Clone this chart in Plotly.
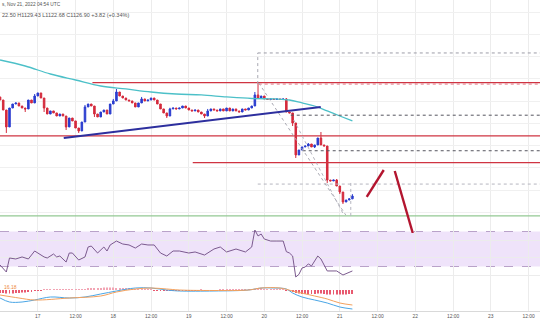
import pandas as pd
import plotly.graph_objects as go
from plotly.subplots import make_subplots

W, H = 540, 336

# ---- ETH/USD hourly bars, Nov 16 12:00 -> Nov 21 04:00 UTC ----
first_open = 1260.6
closes = [
    1256.5, 1243.0, 1220.1, 1245.7, 1251.1, 1252.5, 1248.4, 1245.7, 1244.4, 1256.5,
    1252.5, 1261.9, 1266.0, 1259.2, 1245.7, 1237.6, 1241.7, 1239.0, 1234.9, 1237.6,
    1234.9, 1220.1, 1232.2, 1228.2, 1218.7, 1214.7, 1226.8, 1247.1, 1251.1, 1248.4,
    1237.6, 1233.6, 1240.3, 1243.0, 1237.6, 1251.1, 1255.2, 1267.3, 1261.9, 1259.2,
    1256.5, 1255.2, 1252.5, 1247.1, 1252.5, 1257.9, 1255.2, 1256.5, 1259.2, 1256.5,
    1251.1, 1244.4, 1239.0, 1234.9, 1244.4, 1245.7, 1244.4, 1245.7, 1248.4, 1245.7,
    1243.0, 1241.7, 1243.0, 1240.3, 1237.6, 1234.9, 1241.7, 1244.4, 1243.0, 1241.7,
    1244.4, 1241.7, 1245.7, 1241.7, 1244.4, 1241.7, 1240.3, 1244.4, 1243.0, 1245.7,
    1248.4, 1263.3, 1259.2, 1261.9, 1257.9, 1257.2, 1257.9, 1257.2, 1257.9, 1257.2,
    1257.9, 1240.3, 1239.0, 1225.5, 1182.3, 1189.0, 1193.1, 1194.4, 1197.1, 1193.1,
    1195.8, 1205.2, 1195.8, 1194.4, 1148.5, 1147.2, 1148.5, 1140.4, 1132.3, 1118.8,
    1121.5, 1123.08, 1126.9,
]
# wick extremes where they reach beyond the candle body
wick_highs = {11: 1264.6, 27: 1249.8, 36: 1257.9, 37: 1271.4, 45: 1260.6, 54: 1246.0,
              66: 1244.4, 81: 1267.3, 82: 1279.5, 91: 1259.2, 98: 1198.4, 102: 1213.3,
              107: 1149.8, 112: 1129.43}
wick_lows = {2: 1212.0, 8: 1240.3, 14: 1240.3, 21: 1216.0, 25: 1212.0, 30: 1233.6,
             53: 1232.2, 65: 1232.2, 93: 1221.4, 94: 1178.2, 100: 1191.7, 104: 1144.5,
             108: 1129.6, 109: 1116.1, 112: 1122.68}

# 100-hour simple moving average, read at bar indices
sma_idx = [0, 8, 16, 24, 32, 40, 48, 56, 64, 72, 80, 88, 92, 96, 100, 104, 108, 112]
sma_val = [1310.5, 1302.4, 1291.6, 1283.5, 1275.4, 1271.4, 1267.3, 1264.6, 1263.3,
           1260.6, 1258.5, 1257.9, 1256.5, 1252.5, 1248.4, 1241.7, 1234.9, 1228.2]

# RSI(14)
rsi_idx = [0, 1, 2, 3, 5, 7, 9, 11, 12, 14, 15, 17, 18, 19, 21, 22, 23, 25, 27, 28, 29,
           31, 33, 34, 35, 37, 39, 41, 43, 45, 47, 49, 51, 53, 55, 57, 60, 62, 65, 68,
           70, 72, 75, 78, 80, 81, 82, 83, 84, 86, 88, 90, 91, 92, 93, 94, 95, 96, 97,
           98, 99, 101, 102, 104, 107, 109, 112]
rsi_val = [31.7, 28.0, 23.7, 39.7, 38.6, 40.9, 38.6, 47.7, 45.4, 40.9, 39.7, 44.3, 40.9,
           42.0, 35.1, 45.4, 45.4, 37.4, 40.9, 52.3, 53.4, 45.4, 52.3, 47.7, 54.6, 59.1,
           55.7, 54.6, 51.1, 55.7, 54.6, 54.6, 45.4, 42.0, 47.7, 47.7, 45.4, 46.6, 43.1,
           50.0, 52.3, 46.6, 50.0, 46.6, 52.3, 71.7, 64.9, 67.1, 61.4, 59.1, 59.1, 59.1,
           47.0, 45.4, 42.0, 18.0, 21.0, 28.3, 29.4, 33.0, 30.6, 42.0, 38.6, 24.9, 24.9,
           20.3, 24.9]

# MACD(12, 26, 9)
macd_idx = [0, 3, 7, 11, 16, 22, 27, 32, 37, 43, 48, 53, 57, 68, 79, 83, 87, 91, 93,
            96, 100, 104, 108, 112]
macd_val = [-16, -24, -24, -20, -14, -16, -14, -8, -2, 4, 4, 0, -2, -2, 0, 4, 4, 2, -6,
            -14, -20, -26, -34, -38]
signal_idx = [0, 6, 11, 22, 32, 37, 43, 48, 53, 57, 68, 79, 83, 89, 93, 100, 104, 108, 112]
signal_val = [-10, -16, -20, -16, -12, -4, 2, 4, 2, 0, -1, 0, 4, 4, -2, -12, -18, -26, -30]
hist = [
    -6, -6, -7, -7, -7, -6, -6, -5, -5, -4,
    -3, -2, -1, -1, 1, 1, 2, 2, 2, 2,
    2, 1, 1, 1, 1, 1, 2, 2, 3, 3,
    3, 4, 4, 5, 5, 5, 5, 4, 4, 3,
    3, 3, 2, 2, 2, 1, 1, 1, 1, -1,
    -1, -1, -2, -2, -2, -2, -1, -1, -1, -1,
    -1, -1, -1, -1, 1, -1, -1, -1, -1, -1,
    1, 1, 1, 1, 1, 1, 1, 1, 1, 1,
    1, 2, 3, 3, 2, 2, 2, 1, 1, 1,
    1, -1, -2, -4, -6, -7, -8, -8, -8, -8,
    -8, -7, -7, -8, -9, -9, -9, -9, -9, -9,
    -9, -8, -8,
]

# drawn levels
res_upper, res_mid, res_low, support = 1280, 1208, 1172, 1100

# time axis labels
tick_times = pd.date_range("2022-11-16 12:00", "2022-11-23 12:00", freq="12h")
tick_text = ["12:00" if t.hour == 12 else str(t.day) for t in tick_times]

# ---- build ----
times = pd.date_range("2022-11-16 12:00", periods=len(closes), freq="h")
opens = [first_open] + closes[:-1]
highs = [wick_highs.get(i, max(o, c)) for i, (o, c) in enumerate(zip(opens, closes))]
lows = [wick_lows.get(i, min(o, c)) for i, (o, c) in enumerate(zip(opens, closes))]

X0 = pd.Timestamp("2022-11-16 11:59")
X1 = pd.Timestamp("2022-11-23 15:38")

UP, DOWN = "#2b3dcf", "#d42a3c"
FONT = "Liberation Sans"

fig = make_subplots(rows=3, cols=1, shared_xaxes=True, vertical_spacing=0)

fig.add_trace(go.Candlestick(
    x=times, open=opens, high=highs, low=lows, close=closes,
    increasing=dict(line=dict(color=UP, width=1), fillcolor=UP),
    decreasing=dict(line=dict(color=DOWN, width=1), fillcolor=DOWN),
    whiskerwidth=0, hoverinfo="skip"), row=1, col=1)

fig.add_trace(go.Scatter(
    x=[times[i] for i in sma_idx], y=sma_val, mode="lines",
    line=dict(color="#4cc0c8", width=1.3, shape="spline"), hoverinfo="skip"), row=1, col=1)

fig.add_trace(go.Scatter(
    x=[times[i] for i in rsi_idx], y=rsi_val, mode="lines",
    line=dict(color="#7b5a8e", width=1), hoverinfo="skip"), row=2, col=1)

fig.add_trace(go.Bar(
    x=times, y=hist, width=1.1e6,
    marker=dict(color=["#f2a5b4" if v > 0 else "#e85a70" for v in hist], line=dict(width=0)),
    hoverinfo="skip"), row=3, col=1)
fig.add_trace(go.Scatter(
    x=[times[i] for i in macd_idx], y=macd_val, mode="lines",
    line=dict(color="#4aa6e6", width=1, shape="spline"), hoverinfo="skip"), row=3, col=1)
fig.add_trace(go.Scatter(
    x=[times[i] for i in signal_idx], y=signal_val, mode="lines",
    line=dict(color="#f3a15e", width=1, shape="spline"), hoverinfo="skip"), row=3, col=1)


def hline(y, start, color, width=1.2, dash="solid"):
    fig.add_shape(type="line", xref="x", yref="y", x0=start, x1=X1, y0=y, y1=y,
                  line=dict(color=color, width=width, dash=dash))


def seg(t0, p0, t1, p1, color, width=1, dash="solid"):
    fig.add_shape(type="line", xref="x", yref="y", x0=t0, x1=t1, y0=p0, y1=p1,
                  line=dict(color=color, width=width, dash=dash))


# horizontal support / resistance
hline(res_upper, "2022-11-17 17:22", "#cf3442", 1.3)
hline(res_mid, X0, "#cf3442", 1.3)
hline(res_low, "2022-11-19 01:15", "#cf3442", 1.3)
hline(support, X0, "#93c993", 1.2)

# fibonacci-style guide levels
hline(1320, "2022-11-19 21:55", "#9d9da8", 1, "dot")
hline(1278, "2022-11-19 22:14", "#e27583", 1, "dot")
hline(1236, "2022-11-20 08:24", "#55555f", 1, "dot")
hline(1188, "2022-11-20 12:12", "#55555f", 1, "dot")
hline(1143, "2022-11-19 21:55", "#b5b5bf", 1, "dot")
seg("2022-11-19 21:55", 1278, "2022-11-19 21:55", 1320, "#a8a8b2", 1, "dot")
seg("2022-11-21 03:29", 1100, "2022-11-21 03:29", 1144.5, "#b5b5bf", 1, "dot")
seg("2022-11-19 22:14", 1279.5, "2022-11-21 01:53", 1101.3, "#a8a8b2", 1, "dot")
seg("2022-11-20 09:22", 1229.5, "2022-11-21 00:56", 1104.0, "#b5b5bf", 1, "dot")

# rising trend line
seg("2022-11-17 08:15", 1205.2, "2022-11-20 17:56", 1247.1, "#2d2f9e", 2)

# projected path
seg("2022-11-21 08:34", 1125.6, "2022-11-21 13:58", 1162.0, "#b3152f", 2.4)
seg("2022-11-21 17:28", 1160.7, "2022-11-21 23:11", 1077.0, "#b3152f", 2.4)

# RSI band
fig.add_shape(type="rect", xref="paper", yref="y2", x0=0, x1=1, y0=30, y1=70,
              fillcolor="#efe3fa", line=dict(width=0), layer="below")
for lvl in (30, 70):
    fig.add_shape(type="line", xref="paper", yref="y2", x0=0, x1=1, y0=lvl, y1=lvl,
                  line=dict(color="#b9a2c9", width=1, dash="dash"), layer="below")

# header
fig.add_annotation(x=0, y=1 - 5 / H, xref="paper", yref="paper", xanchor="left",
                   yanchor="middle", showarrow=False, text="s, Nov 21, 2022 04:54 UTC",
                   font=dict(family=FONT, size=4.8, color="#555"))
fig.add_annotation(x=0, y=1 - 15 / H, xref="paper", yref="paper", xanchor="left",
                   yanchor="middle", showarrow=False,
                   text="22.50 H1129.43 L1122.68 C1126.90 +3.82 (+0.34%)",
                   font=dict(family=FONT, size=5.5, color="#555"))
fig.add_annotation(x=0.004, y=1 - 287 / H, xref="paper", yref="paper", xanchor="left",
                   yanchor="middle", showarrow=False, text="16.18",
                   font=dict(family=FONT, size=5, color="#ee8a3a"))

fig.update_xaxes(range=[X0, X1], tickvals=tick_times, ticktext=tick_text,
                 showgrid=True, gridcolor="#ececec", gridwidth=1, zeroline=False,
                 rangeslider_visible=False, ticks="",
                 tickfont=dict(family=FONT, size=4.9, color="#555"))
fig.update_xaxes(showline=True, linecolor="#d9d9d9", linewidth=1, row=3, col=1)

fig.update_layout(
    width=W, height=H, margin=dict(l=0, r=0, t=0, b=0),
    paper_bgcolor="white", plot_bgcolor="rgba(0,0,0,0)", showlegend=False,
    yaxis=dict(domain=[1 - 233 / H, 1], range=[1076.95, 1391.5], tick0=1105, dtick=30,
               showticklabels=False, gridcolor="#f0f0f0", zeroline=False),
    yaxis2=dict(domain=[1 - 281 / H, 1 - 228 / H], range=[13.43, 74],
                tickvals=[20, 40, 60], showticklabels=False, gridcolor="#ececec",
                zeroline=False),
    yaxis3=dict(domain=[1 - 311 / H, 1 - 281 / H], range=[-42, 18],
                showticklabels=False, showgrid=False, zeroline=False),
)

fig.write_html("out.html")
